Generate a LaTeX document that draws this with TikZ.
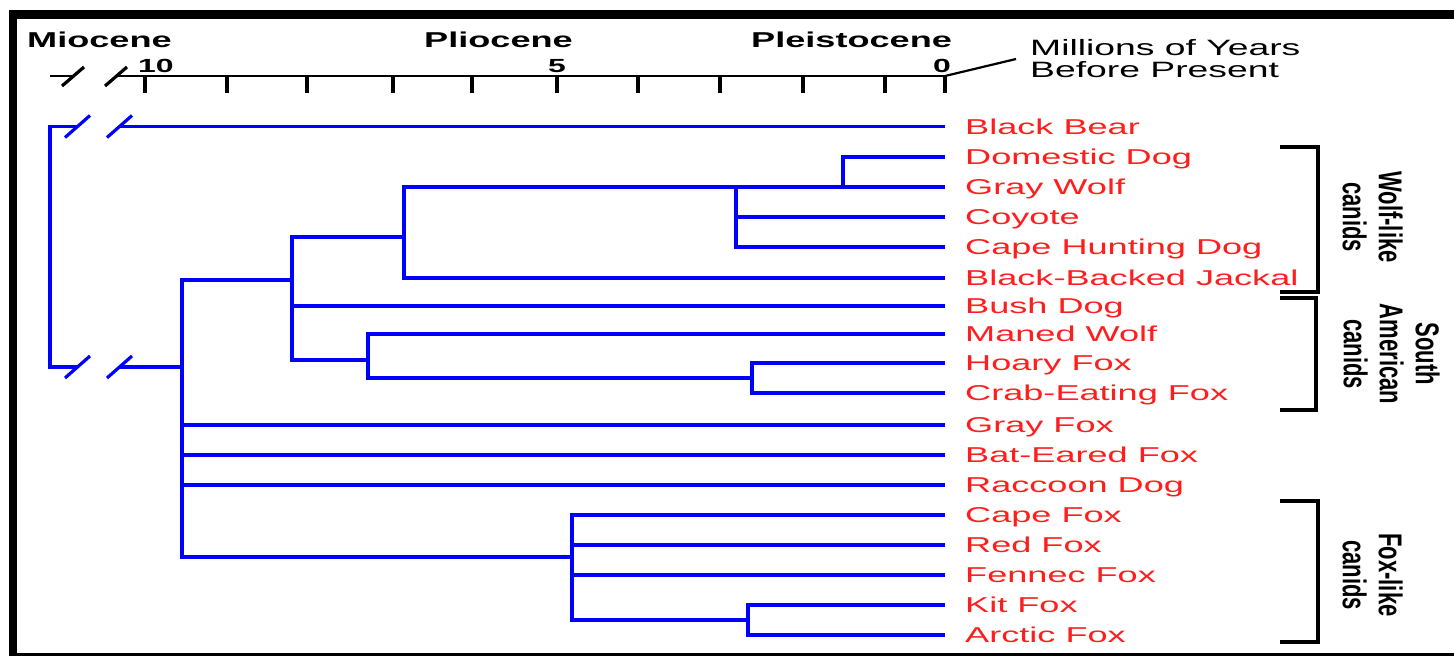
\documentclass[tikz,border=0pt]{standalone}
\usepackage{graphicx}
\usepackage{fontspec}
\setmainfont{Liberation Sans}[FakeStretch=1.68]
\newfontfamily\brfont{Liberation Sans}
\definecolor{treeblue}{RGB}{0,0,255}
\definecolor{labred}{RGB}{255,30,30}
\begin{document}
\begin{tikzpicture}[x=1pt,y=-1pt,
  branch/.style={treeblue, line width=3.2pt},
  axisline/.style={black, line width=2.6pt},
  breakmark/.style={black, line width=3.2pt},
  tickmark/.style={black, line width=4pt},
  brack/.style={black, line width=3.6pt},
  lab/.style={anchor=base west, inner sep=0pt, text=labred, font=\fontsize{21.5}{24}\selectfont},
  epoch/.style={anchor=base west, inner sep=0pt, font=\bfseries\fontsize{21.5}{24}\selectfont},
  num/.style={anchor=base, inner sep=0pt, font=\bfseries\fontsize{19}{22}\selectfont},
  note/.style={anchor=base west, inner sep=0pt, font=\fontsize{22.2}{24}\selectfont},
  brlab/.style={rotate=-90, inner sep=0pt, font=\brfont\bfseries\fontsize{22}{24}\selectfont}]
\useasboundingbox (0,0) rectangle (1454,656);
\fill[white] (0,0) rectangle (1454,656);
% frame
\fill[black] (9,10) rectangle (1454,19);
\fill[black] (9,10) rectangle (17,656);
\fill[black] (9,653) rectangle (1454,656);

% time axis
\coordinate (axL) at (50,76);
\coordinate (axB1) at (73,76);
\coordinate (axB2) at (116,76);
\coordinate (ax0) at (945,76);
\draw[axisline] (axL) -- (axB1);
\draw[axisline] (axB2) -- (ax0);
\draw[breakmark] ([shift={(-11,10)}]axB1) -- ([shift={(11,-9)}]axB1);
\draw[breakmark] ([shift={(-11,10)}]axB2) -- ([shift={(11,-9)}]axB2);
\foreach \x in {145,227,307,393,472,557,638,720,803,885,945}
  \draw[tickmark] (\x,76) -- (\x,93);
\node[num] (n10) at (156,72) {10};
\node[num] (n5) at (557,72) {5};
\node[num] (n0) at (942,72) {0};
\node[epoch] (mio) at (27,47) {Miocene};
\node[epoch] (plio) at (424,47) {Pliocene};
\node[epoch] (pleis) at (751,47) {Pleistocene};
\node[note] (myr1) at (1030,55) {Millions of Years};
\node[note] (myr2) at (1030,77) {Before Present};
\coordinate (myrend) at (1016,59);
\draw[black, line width=2.2pt] (ax0) -- (myrend);

% leaves
\foreach \n/\y/\t in {bb/126.5/Black Bear, dd/157/Domestic Dog, gw/187/Gray Wolf,
  co/217/Coyote, chd/247/Cape Hunting Dog, bbj/278/Black-Backed Jackal,
  bd/306/Bush Dog, mw/334/Maned Wolf, hf/363/Hoary Fox, cef/393/Crab-Eating Fox,
  gf/425/Gray Fox, bef/455/Bat-Eared Fox, rd/485/Raccoon Dog, cf/515/Cape Fox,
  rf/545/Red Fox, ff/575/Fennec Fox, kf/605/Kit Fox, af/635/Arctic Fox}{
  \coordinate (t\n) at (945,\y);
  \node[lab] (l\n) at (965,\y+7.7) {\t};
}

% internal nodes
\coordinate (A) at (843,187);
\coordinate (B) at (736,187);
\coordinate (C) at (404,237);
\coordinate (D) at (292,280);
\coordinate (E) at (368,360);
\coordinate (F) at (752,378);
\coordinate (G) at (182,367);
\coordinate (H) at (572,557);
\coordinate (I) at (748,620);
\coordinate (Rt) at (50,126.5);
\coordinate (Rb) at (50,367);
\coordinate (k1t) at (77.5,126.5);
\coordinate (k2t) at (119.5,126.5);
\coordinate (k1b) at (77.5,367);
\coordinate (k2b) at (119.5,367);

\draw[branch] (tdd) -| (A) -- (tgw);
\draw[branch] (A) -- (B) |- (tchd);
\draw[branch] (B |- tco) -- (tco);
\draw[branch] (B) -- (C |- B) |- (tbbj);
\draw[branch] (C) -- (D |- C) |- (E);
\draw[branch] (D |- tbd) -- (tbd);
\draw[branch] (tmw) -| (E |- F) -- (F);
\draw[branch] (thf) -| (F |- tcef) -- (tcef);
\draw[branch] (D) -- (G |- D) |- (H);
\draw[branch] (G |- tgf) -- (tgf);
\draw[branch] (G |- tbef) -- (tbef);
\draw[branch] (G |- trd) -- (trd);
\draw[branch] (tcf) -| (H |- I) -- (I);
\draw[branch] (H |- trf) -- (trf);
\draw[branch] (H |- tff) -- (tff);
\draw[branch] (tkf) -| (I |- taf) -- (taf);
% root with broken branches
\draw[branch] (k1t) -- (Rt) -- (Rb) -- (k1b);
\draw[branch] (k2t) -- (tbb);
\draw[branch] (k2b) -- (G);
\foreach \k in {k1t,k2t,k1b,k2b}
  \draw[branch] ([shift={(-12.5,11)}]\k) -- ([shift={(12.5,-11)}]\k);

% brackets
\coordinate (w1) at (1280,147); \coordinate (w2) at (1318,147);
\coordinate (w3) at (1318,292); \coordinate (w4) at (1280,292);
\draw[brack] (w1) -- (w2) -- (w3) -- (w4);
\coordinate (s1) at (1280,298); \coordinate (s2) at (1316,298);
\coordinate (s3) at (1316,410); \coordinate (s4) at (1280,410);
\draw[brack] (s1) -- (s2) -- (s3) -- (s4);
\coordinate (f1) at (1280,501); \coordinate (f2) at (1318,501);
\coordinate (f3) at (1318,642); \coordinate (f4) at (1280,642);
\draw[brack] (f1) -- (f2) -- (f3) -- (f4);

\node[brlab] (wlab) at (1368,217) {\scalebox{1}[1.5]{\begin{tabular}{@{}c@{}}Wolf-like\\canids\end{tabular}}};
\node[brlab] (slab) at (1387,354) {\scalebox{1}[1.5]{\begin{tabular}{@{}c@{}}South\\American\\canids\end{tabular}}};
\node[brlab] (flab) at (1368,575) {\scalebox{1}[1.5]{\begin{tabular}{@{}c@{}}Fox-like\\canids\end{tabular}}};
\end{tikzpicture}
\end{document}
